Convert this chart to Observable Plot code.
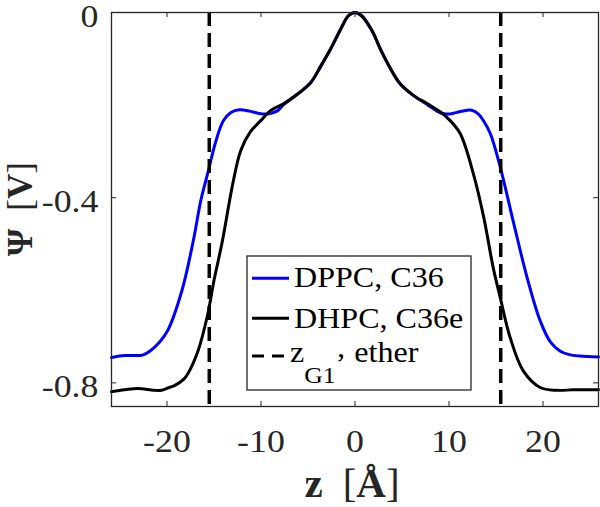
<!DOCTYPE html>
<html>
<head>
<meta charset="utf-8">
<script src="https://cdn.jsdelivr.net/npm/d3@7"></script>
<script src="https://cdn.jsdelivr.net/npm/@observablehq/plot@0.6"></script>
<style>
  html, body { margin: 0; padding: 0; background: #fff; }
  #chart { width: 600px; height: 507px; }
</style>
</head>
<body>
<div id="chart"></div>
<script>
// ---- data ----
const zTicks = [-20, -10, 0, 10, 20];
const psiTicks = [0, -0.4, -0.8];
const zG1Ether = [-15.5, 15.5];

const dppcZ = [-25.9, -24.5, -23.5, -22.6, -21.8, -20.8, -19.9, -18.4, -17.2, -16.4, -15.6, -14.8, -14.0, -13.2, -12.3, -11.2, -10.2, -9.3, -8.3, -7.6, -6.1, -4.7, -3.7, -2.6, -1.5, -0.7, 0, 0.7, 1.8, 2.7, 3.8, 4.8, 6.2, 7.7, 9.1, 10.1, 11.2, 12.4, 13.1, 13.7, 14.4, 15.45, 16.9, 18.3, 19.7, 20.8, 21.8, 22.8, 23.9, 25.9];
const dppcPsi = [-0.745, -0.741, -0.741, -0.740, -0.731, -0.712, -0.686, -0.600, -0.493, -0.406, -0.342, -0.278, -0.234, -0.216, -0.210, -0.213, -0.218, -0.219, -0.213, -0.199, -0.176, -0.151, -0.118, -0.079, -0.035, -0.007, 0, -0.007, -0.039, -0.079, -0.122, -0.154, -0.179, -0.199, -0.217, -0.219, -0.214, -0.211, -0.219, -0.235, -0.262, -0.334, -0.457, -0.572, -0.666, -0.712, -0.731, -0.739, -0.742, -0.744];

const dhpcZ = [-25.9, -24.5, -23.1, -21.4, -20.6, -19.9, -19.2, -18.2, -17.8, -16.7, -15.7, -15.0, -14.1, -13.0, -12.15, -11.1, -10.0, -9.0, -7.6, -6.1, -4.7, -3.7, -2.6, -1.5, -0.7, 0, 0.7, 1.8, 2.7, 3.8, 4.8, 6.2, 7.7, 9.1, 10.1, 11.2, 12.6, 13.7, 14.7, 15.45, 16.5, 17.9, 19.7, 21.5, 23.2, 25.9];
const dhpcPsi = [-0.819, -0.815, -0.812, -0.816, -0.816, -0.811, -0.806, -0.792, -0.781, -0.731, -0.655, -0.579, -0.493, -0.370, -0.298, -0.257, -0.233, -0.212, -0.197, -0.176, -0.151, -0.118, -0.079, -0.035, -0.007, 0, -0.007, -0.039, -0.079, -0.122, -0.154, -0.179, -0.197, -0.215, -0.233, -0.262, -0.349, -0.443, -0.551, -0.616, -0.702, -0.774, -0.810, -0.816, -0.815, -0.815];

const seriesNames = ["DPPC, C36", "DHPC, C36e"];
const seriesColors = ["#0000ff", "#000000"];

// ---- build tables ----
const dppc = dppcZ.map((z, i) => ({z, psi: dppcPsi[i]}));
const dhpc = dhpcZ.map((z, i) => ({z, psi: dhpcPsi[i]}));

const W = 600, H = 507;
const mL = 111, mR = 2, mT = 12, mB = 101;
const innerW = W - mL - mR, innerH = H - mT - mB;
const axisColor = "#262626";
const serif = "'Liberation Serif', 'Times New Roman', Times, serif";

const plot = Plot.plot({
  width: W,
  height: H,
  marginLeft: mL,
  marginRight: mR,
  marginTop: mT,
  marginBottom: mB,
  style: {fontFamily: serif, color: axisColor, background: "white", overflow: "visible"},
  x: {domain: [-25.9, 25.9]},
  y: {domain: [-0.851, 0]},
  marks: [
    // inward ticks on all four sides
    Plot.ruleX(zTicks, {stroke: axisColor, strokeWidth: 1, insetTop: innerH - 5}),
    Plot.ruleX(zTicks, {stroke: axisColor, strokeWidth: 1, insetBottom: innerH - 5}),
    Plot.ruleY(psiTicks, {stroke: axisColor, strokeWidth: 1, insetRight: innerW - 5}),
    Plot.ruleY(psiTicks, {stroke: axisColor, strokeWidth: 1, insetLeft: innerW - 5}),
    Plot.axisX(zTicks, {anchor: "bottom", tickSize: 0, tickPadding: 23, fontSize: 32, tickFormat: d => String(d), label: null}),
    Plot.axisY(psiTicks, {anchor: "left", tickSize: 0, tickPadding: 13, fontSize: 32, dy: 4, tickFormat: d => String(d), label: null}),
    Plot.line(dppc, {x: "z", y: "psi", stroke: seriesColors[0], strokeWidth: 3, curve: "catmull-rom"}),
    Plot.line(dhpc, {x: "z", y: "psi", stroke: seriesColors[1], strokeWidth: 3, curve: "catmull-rom"}),
    Plot.ruleX(zG1Ether, {stroke: "#000", strokeWidth: 3.5, strokeDasharray: "14,7"}),
    Plot.frame({stroke: axisColor, strokeWidth: 1.3})
  ]
});

document.getElementById("chart").appendChild(plot);

const svg = d3.select(plot);

// slight horizontal stretch of tick labels, as in the reference
svg.selectAll('g[aria-label$="tick label"] text').each(function() {
  const tr = this.getAttribute("transform") || "";
  this.setAttribute("transform", tr + " scale(1.12,1)");
});

// ---- axis labels ----
const xl = svg.append("text")
  .attr("x", 352).attr("y", 497)
  .attr("text-anchor", "middle")
  .attr("font-family", serif)
  .attr("font-size", 41)
  .attr("fill", axisColor);
xl.append("tspan").attr("font-weight", "bold").text("z");
xl.append("tspan").attr("dx", 20).text("[");
xl.append("tspan").attr("font-weight", "bold").text("Å");
xl.append("tspan").text("]");

const yl = svg.append("text")
  .attr("transform", "translate(31.5,209) rotate(-90)")
  .attr("text-anchor", "middle")
  .attr("font-family", serif)
  .attr("font-size", 35)
  .attr("fill", axisColor);
yl.append("tspan").attr("font-weight", "bold").text("Ψ");
yl.append("tspan").attr("dx", 18).text("[");
yl.append("tspan").attr("font-weight", "bold").text("V");
yl.append("tspan").text("]");

// ---- legend ----
const lg = svg.append("g");
lg.append("rect")
  .attr("x", 247).attr("y", 256).attr("width", 224).attr("height", 134)
  .attr("fill", "white").attr("stroke", axisColor).attr("stroke-width", 1.3);

const rowsY = [278.3, 318.3, 356];
const baseY = [287, 328.3, 361.7];
[0, 1].forEach(i => {
  lg.append("line")
    .attr("x1", 252).attr("x2", 289).attr("y1", rowsY[i]).attr("y2", rowsY[i])
    .attr("stroke", seriesColors[i]).attr("stroke-width", 3);
  lg.append("text")
    .attr("transform", `translate(294,${baseY[i]}) scale(1.07,1)`)
    .attr("text-anchor", "start")
    .attr("font-family", serif).attr("font-size", 30).attr("fill", "#000")
    .text(seriesNames[i]);
});
lg.append("line")
  .attr("x1", 252).attr("x2", 289).attr("y1", rowsY[2]).attr("y2", rowsY[2])
  .attr("stroke", "#000").attr("stroke-width", 3).attr("stroke-dasharray", "12,8");
const t3 = lg.append("text")
  .attr("transform", `translate(290,${baseY[2]}) scale(1.07,1)`)
  .attr("text-anchor", "start")
  .attr("font-family", serif).attr("font-size", 30).attr("fill", "#000");
t3.append("tspan").text("z");
t3.append("tspan").attr("font-size", 24).attr("dy", 21).text("G1");
t3.append("tspan").attr("dy", -9.5).text("’");
t3.append("tspan").attr("dy", -11.5).text(" ether");
</script>
</body>
</html>
